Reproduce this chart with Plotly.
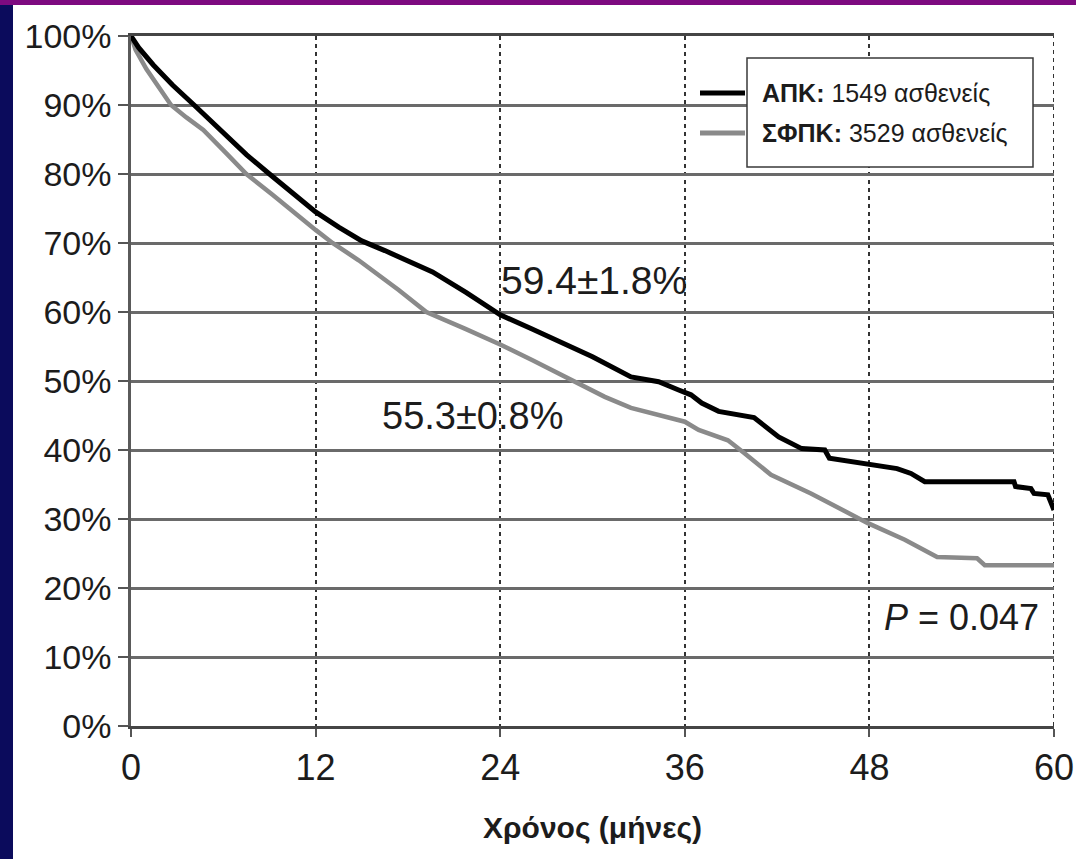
import plotly.graph_objects as go

# ---- data (months, survival %) ----
months_apk = [0, 0.5, 1.45, 2.7, 4.1, 5.75, 7.5, 9.0, 10.5, 12.0, 13.5, 15.0, 16.5, 17.4,
              19.6, 21.8, 24.0, 26.0, 28.0, 30.0, 32.5, 34.3, 35.6, 36.4, 37.1,
              38.2, 40.5, 41.2, 42.1, 43.6, 45.1, 45.4, 46.8, 48.5, 49.8, 50.7, 51.6,
              57.4, 57.5, 58.5, 58.7, 59.6, 60.0]
surv_apk = [100, 98.3, 95.8, 92.9, 90.0, 86.4, 82.8, 80.0, 77.2, 74.5, 72.3, 70.3, 68.9, 68.0,
            65.8, 62.8, 59.6, 57.6, 55.5, 53.5, 50.6, 49.9, 48.7, 48.0, 46.8,
            45.6, 44.7, 43.4, 41.9, 40.2, 40.0, 38.8, 38.3, 37.8, 37.3, 36.6, 35.4,
            35.4, 34.7, 34.4, 33.7, 33.5, 31.3]

months_sfpk = [0, 0.3, 1.0, 1.8, 2.6, 3.6, 4.7, 6.2, 7.5, 9.2, 10.6, 12.0, 13.1, 14.8, 17.4,
               19.2, 21.7, 24.0, 26.1, 28.8, 30.8, 32.5, 34.7, 36.0, 36.9, 38.8, 39.9,
               41.6, 44.2, 46.4, 47.9, 50.3, 52.4, 55.0, 55.5, 60.0]
surv_sfpk = [100, 98.0, 95.2, 92.5, 90.0, 88.2, 86.4, 83.0, 80.0, 77.0, 74.4, 71.9, 70.0, 67.5, 63.2,
             60.0, 57.6, 55.3, 53.0, 50.0, 47.7, 46.1, 44.8, 44.1, 42.9, 41.4, 39.5,
             36.4, 33.7, 31.1, 29.4, 27.0, 24.5, 24.3, 23.3, 23.3]

x_ticks = [0, 12, 24, 36, 48, 60]
y_ticks = [0, 10, 20, 30, 40, 50, 60, 70, 80, 90, 100]
series_names = ["ΑΠΚ", "ΣΦΠΚ"]
series_counts = ["1549 ασθενείς", "3529 ασθενείς"]
x_title = "Χρόνος (μήνες)"
label_apk = "59.4±1.8%"
label_sfpk = "55.3±0.8%"
p_label = "<i>P</i> = 0.047"

# ---- geometry ----
W, H = 1076, 859
L, R, T, B = 131, 22, 36, 133
PW, PH = W - L - R, H - T - B


def px(x):
    return (x - L) / PW


def py(y):
    return (H - B - y) / PH


FONT = "Liberation Sans, Arial, sans-serif"
TXT = "#1c1c1c"

fig = go.Figure()
fig.add_trace(go.Scatter(x=months_sfpk, y=surv_sfpk, mode="lines",
                         line=dict(color="#8a8a8a", width=4.5), name=series_names[1]))
fig.add_trace(go.Scatter(x=months_apk, y=surv_apk, mode="lines",
                         line=dict(color="#000000", width=5), name=series_names[0]))

shapes = []
# page decorations: navy left bar and purple top bar
shapes.append(dict(type="rect", xref="paper", yref="paper", x0=px(0), x1=px(13), y0=py(H), y1=py(0),
                   fillcolor="#0b0b5c", line=dict(width=0), layer="below"))
shapes.append(dict(type="rect", xref="paper", yref="paper", x0=px(0), x1=px(W), y0=py(5), y1=py(0),
                   fillcolor="#7d0a80", line=dict(width=0), layer="below"))
# right dashed frame line (grid at 60)
shapes.append(dict(type="line", xref="x", yref="paper", x0=60, x1=60, y0=0, y1=1,
                   line=dict(color="#333333", width=2, dash="4px,4px"), layer="below"))
# legend box
shapes.append(dict(type="rect", xref="paper", yref="paper", x0=px(747), x1=px(1033), y0=py(167), y1=py(58),
                   fillcolor="white", line=dict(color="#3a3a3a", width=1.5), layer="above"))
shapes.append(dict(type="line", xref="paper", yref="paper", x0=px(700), x1=px(745), y0=py(93), y1=py(93),
                   line=dict(color="#000000", width=5), layer="above"))
shapes.append(dict(type="line", xref="paper", yref="paper", x0=px(700), x1=px(745), y0=py(133), y1=py(133),
                   line=dict(color="#8a8a8a", width=5), layer="above"))

annotations = []
for i, (nm, cnt) in enumerate(zip(series_names, series_counts)):
    annotations.append(dict(xref="paper", yref="paper", x=px(760), y=py(93 + 40 * i),
                            xanchor="left", yanchor="middle", showarrow=False,
                            text=f"<b>{nm}:</b> {cnt}", font=dict(family=FONT, size=25, color=TXT)))
annotations.append(dict(x=30.1, y=64.5, text=label_apk, showarrow=False, xanchor="center", yanchor="middle",
                        font=dict(family=FONT, size=39, color=TXT)))
annotations.append(dict(x=22.2, y=44.9, text=label_sfpk, showarrow=False, xanchor="center", yanchor="middle",
                        font=dict(family=FONT, size=38, color=TXT)))
annotations.append(dict(x=54.0, y=15.7, text=p_label, showarrow=False, xanchor="center", yanchor="middle",
                        font=dict(family=FONT, size=36, color=TXT)))

fig.update_layout(
    width=W, height=H,
    margin=dict(l=L, r=R, t=T, b=B, pad=0, autoexpand=False),
    paper_bgcolor="white", plot_bgcolor="white",
    showlegend=False,
    shapes=shapes, annotations=annotations,
    xaxis=dict(range=[0, 60], tickvals=x_ticks, ticktext=[str(v) for v in x_ticks],
               automargin=False,
               showgrid=True, gridcolor="#333333", gridwidth=2, griddash="4px,4px",
               showline=True, mirror=True, linecolor="#454545", linewidth=3,
               ticks="outside", ticklen=8, tickwidth=2, tickcolor="#555555",
               ticklabeloverflow="allow",
               tickfont=dict(family=FONT, size=36, color=TXT),
               title=dict(text=f"<b>{x_title}</b>", font=dict(family=FONT, size=30, color=TXT), standoff=30),
               zeroline=False, fixedrange=True),
    yaxis=dict(range=[0, 100], tickvals=y_ticks, ticktext=[f"{v}%" for v in y_ticks],
               automargin=False,
               showgrid=True, gridcolor="#6a6a6a", gridwidth=3,
               showline=True, linecolor="#5a5a5a", linewidth=2.5,
               ticks="outside", ticklen=10, tickwidth=2, tickcolor="#555555",
               tickfont=dict(family=FONT, size=34, color=TXT),
               zeroline=False, fixedrange=True),
)

fig.write_html("out.html", config={"displayModeBar": False},
               post_script="document.body.style.margin='0';document.body.style.overflow='hidden';")
